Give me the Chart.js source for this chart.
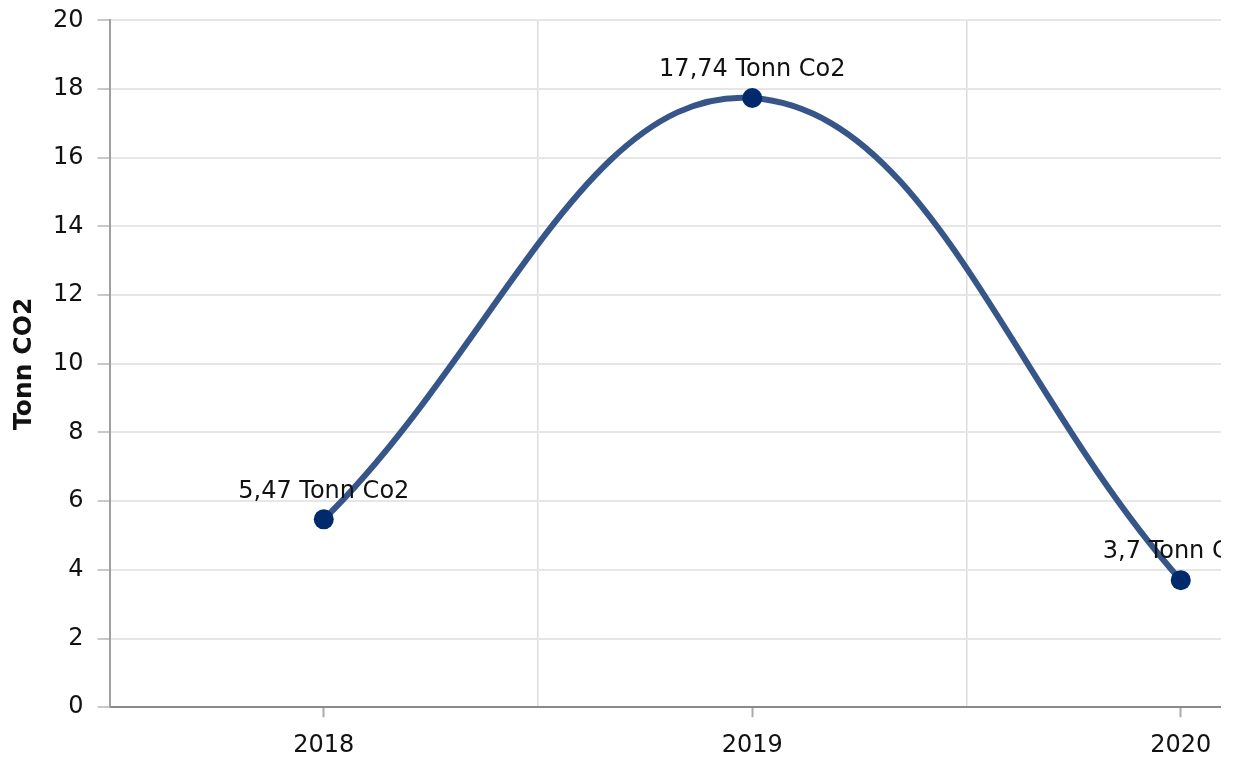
<!DOCTYPE html>
<html>
<head>
<meta charset="utf-8">
<script src="https://cdn.jsdelivr.net/npm/chart.js@4.4.1/dist/chart.umd.min.js"></script>
<style>
  html, body { margin: 0; padding: 0; background: #fff; }
  #wrap { width: 1221px; height: 760px; overflow: hidden; position: relative; }
  canvas { display: block; position: absolute; left: -1px; top: -8px; }
</style>
</head>
<body>
<div id="wrap"><canvas id="c" width="1406" height="782"></canvas></div>
<script>
const years = ['2018', '2019', '2020'];
const co2Tonnes = [5.47, 17.74, 3.7];
const unitLabel = 'Tonn Co2';
const axisTitle = 'Tonn CO2';

const FONT = 'DejaVu Sans';

const valueLabels = {
  id: 'valueLabels',
  afterDatasetsDraw(chart) {
    const ctx = chart.ctx;
    const meta = chart.getDatasetMeta(0);
    const data = chart.data.datasets[0].data;
    ctx.save();
    ctx.font = '24px "' + FONT + '"';
    ctx.fillStyle = '#111';
    ctx.textAlign = 'center';
    ctx.textBaseline = 'middle';
    meta.data.forEach((pt, i) => {
      const txt = String(data[i]).replace('.', ',') + ' ' + unitLabel;
      ctx.fillText(txt, pt.x, pt.y - 28);
    });
    ctx.restore();
  }
};

new Chart(document.getElementById('c'), {
  type: 'line',
  data: {
    labels: years,
    datasets: [{
      data: co2Tonnes,
      borderColor: '#36568a',
      borderWidth: 6,
      tension: 0.4,
      fill: false,
      pointRadius: 10,
      pointBorderWidth: 0,
      pointBackgroundColor: '#002a6b',
      pointBorderColor: '#002a6b'
    }]
  },
  options: {
    responsive: false,
    animation: false,
    layout: { padding: { top: 12, left: 0, right: 0, bottom: 0 } },
    plugins: { legend: { display: false }, tooltip: { enabled: false } },
    scales: {
      x: {
        type: 'category',
        position: 'bottom',
        offset: true,
        grid: { offset: false, drawOnChartArea: false, tickLength: 10, tickColor: '#aaaaaa', tickWidth: 2 },
        border: { color: '#8a8a8a', width: 2 },
        ticks: { font: { family: FONT, size: 24 }, color: '#111', padding: 14, maxRotation: 0 }
      },
      x2: {
        type: 'category',
        position: 'top',
        offset: true,
        grid: {
          offset: true,
          drawTicks: false,
          lineWidth: 1.5,
          color: (c) => (c.index === 0 ? 'rgba(0,0,0,0)' : '#dcdcdc')
        },
        border: { display: false },
        ticks: { display: false }
      },
      y: {
        min: 0,
        max: 20,
        ticks: { stepSize: 2, font: { family: FONT, size: 24 }, color: '#111', padding: 14 },
        grid: { color: '#e6e6e6', lineWidth: 2, tickLength: 12, tickColor: '#c8c8c8' },
        border: { color: '#a0a0a0', width: 2 },
        title: {
          display: true,
          text: axisTitle,
          font: { family: FONT, size: 25, weight: 'bold' },
          color: '#111',
          padding: { top: 10, bottom: 0 }
        }
      }
    }
  },
  plugins: [valueLabels]
});
</script>
</body>
</html>
